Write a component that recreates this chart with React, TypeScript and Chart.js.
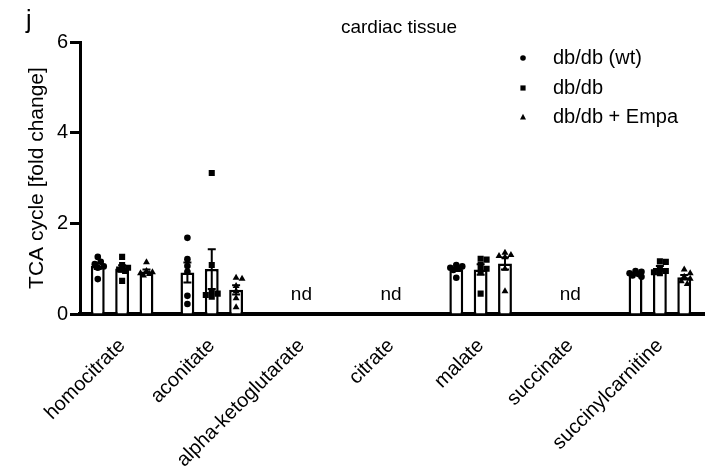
import React, { useEffect, useRef } from 'react';
import { Chart, registerables } from 'chart.js';

Chart.register(...registerables);

// ---------------- data ----------------
const CATEGORIES = [
  'homocitrate',
  'aconitate',
  'alpha-ketoglutarate',
  'citrate',
  'malate',
  'succinate',
  'succinylcarnitine',
];
const SERIES_LABELS = ['db/db (wt)', 'db/db', 'db/db + Empa'];
const POINT_STYLES = ['circle', 'rect', 'triangle'];
const NOT_DETECTED_LABEL = 'nd';
const CHART_TITLE = 'cardiac tissue';
const PANEL_LETTER = 'j';
const Y_TITLE = 'TCA cycle [fold change]';
const Y_TICKS = [0, 2, 4, 6];

// individual animals per metabolite (null = not detected)
const WT_VALUES: (number[] | null)[] = [
  [1.26, 1.15, 1.1, 1.05, 1.02, 0.77],
  [1.68, 1.21, 1.06, 0.93, 0.4, 0.22],
  null,
  null,
  [1.08, 1.05, 1.02, 1.0, 0.97, 0.8],
  null,
  [0.95, 0.93, 0.9, 0.88, 0.85, 0.82],
];
const DBDB_VALUES: (number[] | null)[] = [
  [1.26, 1.08, 1.02, 0.98, 0.95, 0.73],
  [3.11, 1.08, 0.5, 0.45, 0.42, 0.38],
  null,
  null,
  [1.22, 1.2, 1.08, 1.0, 0.95, 0.45],
  null,
  [1.16, 1.15, 1.0, 0.95, 0.92, 0.9],
];
const EMPA_VALUES: (number[] | null)[] = [
  [1.14, 0.95, 0.92, 0.9, 0.88, 0.85],
  [0.8, 0.78, 0.62, 0.5, 0.35, 0.15],
  null,
  null,
  [1.35, 1.3, 1.28, 1.25, 1.0, 0.5],
  null,
  [0.98, 0.9, 0.82, 0.78, 0.72, 0.66],
];
const ALL_VALUES = [WT_VALUES, DBDB_VALUES, EMPA_VALUES];

// ---------------- layout / style ----------------
const W = 709;
const H = 474;
const AREA_LEFT = 80;
const AREA_TOP = 42;
const AREA_BOTTOM = 314;
const X_MIN = -0.47;
const X_MAX = 6.5;
const CAT_PCT = 0.815;
const BAR_PCT = 0.57;
const FONT = '"Liberation Sans", Arial, Helvetica, sans-serif';
const PX_PER_X = (W - AREA_LEFT) / (X_MAX - X_MIN);
const PX_PER_Y = (AREA_BOTTOM - AREA_TOP) / 6;
const POINT_GAP = 5; // px between point centres in the swarm
const SWARM_STEP = 3; // px horizontal step of the swarm

const mean = (a: number[]) => a.reduce((s, v) => s + v, 0) / a.length;
const sem = (a: number[]) => {
  const m = mean(a);
  const sd = Math.sqrt(a.reduce((s, v) => s + (v - m) * (v - m), 0) / (a.length - 1));
  return sd / Math.sqrt(a.length);
};

// simple bee-swarm arrangement of points (pixel offsets -> data units)
function swarm(values: number[]): number[] {
  const order = values.map((v, i) => i).sort((a, b) => values[b] - values[a]);
  const placed: { off: number; v: number }[] = [];
  const offs: number[] = new Array(values.length).fill(0);
  const candidates = [0, 1, -1, 2, -2];
  for (const idx of order) {
    const v = values[idx];
    let chosen = 0;
    let best = -1;
    for (const c of candidates) {
      const off = c * SWARM_STEP;
      let minD = Infinity;
      for (const p of placed) {
        const d = Math.hypot(off - p.off, (v - p.v) * PX_PER_Y);
        minD = Math.min(minD, d);
      }
      if (minD >= POINT_GAP) { chosen = off; break; }
      if (minD > best) { best = minD; chosen = off; }
    }
    placed.push({ off: chosen, v });
    offs[idx] = chosen / PX_PER_X;
  }
  return offs;
}

const annotationPlugin = {
  id: 'annotationPlugin',
  afterDatasetDraw(chart: any, args: any) {
    const meta = args.meta;
    if (meta.type !== 'bar') return;
    const k = args.index;
    const yScale = chart.scales.y;
    const ctx = chart.ctx;
    const groups = ALL_VALUES[k];
    ctx.save();
    ctx.strokeStyle = '#000';
    ctx.lineWidth = 2;
    const barData = chart.data.datasets[k].data;
    meta.data.forEach((el: any, j: number) => {
      const catIndex = barData[j].x;
      const vals = groups[catIndex];
      if (!vals) return;
      const m = mean(vals);
      const e = sem(vals);
      const yTop = yScale.getPixelForValue(m + e);
      const yBot = yScale.getPixelForValue(Math.max(0, m - e));
      const x = el.x;
      const cap = 4;
      ctx.beginPath();
      ctx.moveTo(x, yTop);
      ctx.lineTo(x, yBot);
      ctx.moveTo(x - cap, yTop);
      ctx.lineTo(x + cap, yTop);
      ctx.moveTo(x - cap, yBot);
      ctx.lineTo(x + cap, yBot);
      ctx.stroke();
    });
    ctx.restore();
  },
  afterDraw(chart: any) {
    const ctx = chart.ctx;
    const xScale = chart.scales.x;
    const yScale = chart.scales.y;
    ctx.save();
    ctx.fillStyle = '#000';
    // panel letter
    ctx.font = `25px ${FONT}`;
    ctx.textAlign = 'left';
    ctx.textBaseline = 'alphabetic';
    ctx.fillText(PANEL_LETTER, 26, 28);
    // title
    ctx.font = `19px ${FONT}`;
    ctx.textAlign = 'center';
    ctx.fillText(CHART_TITLE, 399, 33);
    // nd labels
    ctx.font = `19px ${FONT}`;
    CATEGORIES.forEach((_, i) => {
      if (ALL_VALUES.every((s) => !s[i])) {
        ctx.fillText(NOT_DETECTED_LABEL, xScale.getPixelForValue(i), yScale.getPixelForValue(0) - 14);
      }
    });
    // legend
    const rows = [64, 94, 123];
    ctx.font = `20px ${FONT}`;
    ctx.textAlign = 'left';
    SERIES_LABELS.forEach((label, k) => {
      const y = rows[k];
      ctx.fillText(label, 553, y);
      const cy = y - 6;
      const cx = 523;
      ctx.beginPath();
      if (POINT_STYLES[k] === 'circle') {
        ctx.arc(cx, cy, 2.8, 0, Math.PI * 2);
      } else if (POINT_STYLES[k] === 'rect') {
        ctx.rect(cx - 2.6, cy - 2.6, 5.2, 5.2);
      } else {
        ctx.moveTo(cx, cy - 3.3);
        ctx.lineTo(cx + 3, cy + 2.4);
        ctx.lineTo(cx - 3, cy + 2.4);
        ctx.closePath();
      }
      ctx.fill();
    });
    ctx.restore();
  },
};

export default function App() {
  const ref = useRef<HTMLCanvasElement>(null);
  useEffect(() => {
    if (!ref.current) return;
    Chart.defaults.font.family = FONT;
    Chart.defaults.color = '#000';

    const barSets = ALL_VALUES.map((groups, k) => ({
      type: 'bar' as const,
      label: SERIES_LABELS[k],
      data: groups
        .map((vals, i) => (vals ? { x: i, y: mean(vals) } : null))
        .filter((d) => d !== null),
      backgroundColor: '#fff',
      borderColor: '#000',
      borderWidth: 2.5,
      categoryPercentage: CAT_PCT,
      barPercentage: BAR_PCT,
      order: 2,
    }));

    const pointSets = ALL_VALUES.map((groups, k) => {
      const pts: { x: number; y: number }[] = [];
      const groupOffset = ((k - 1) * CAT_PCT) / 3;
      groups.forEach((vals, i) => {
        if (!vals) return;
        const offs = swarm(vals);
        vals.forEach((v, j) => pts.push({ x: i + groupOffset + offs[j], y: v }));
      });
      return {
        type: 'scatter' as const,
        label: SERIES_LABELS[k] + ' points',
        data: pts,
        pointStyle: POINT_STYLES[k],
        pointRadius: k === 0 ? 3.3 : k === 1 ? 4.3 : 4,
        backgroundColor: '#000',
        borderColor: '#000',
        borderWidth: 0,
        order: 1,
      };
    });

    const chart = new Chart(ref.current, {
      type: 'bar',
      data: { datasets: [...barSets, ...pointSets] as any },
      options: {
        animation: false,
        responsive: false,
        events: [],
        layout: { padding: { top: AREA_TOP, left: 0, right: 0, bottom: 0 } },
        plugins: { legend: { display: false }, tooltip: { enabled: false }, title: { display: false } },
        scales: {
          x: {
            type: 'linear',
            min: X_MIN,
            max: X_MAX,
            offset: false,
            grid: { display: false, drawTicks: false },
            border: { display: true, width: 4, color: '#000' },
            afterBuildTicks: (scale: any) => {
              scale.ticks = CATEGORIES.map((_, i) => ({ value: i }));
            },
            afterFit: (scale: any) => {
              scale.height = H - AREA_BOTTOM;
            },
            ticks: {
              autoSkip: false,
              minRotation: 45,
              maxRotation: 45,
              padding: 20,
              font: { size: 20 },
              color: '#000',
              callback: (value: any) => CATEGORIES[Math.round(value)] ?? '',
            },
          },
          y: {
            min: 0,
            max: 6,
            grid: {
              drawOnChartArea: false,
              drawTicks: true,
              tickLength: 10,
              tickWidth: 3,
              tickColor: '#000',
              color: '#000',
            },
            border: { display: true, width: 3, color: '#000' },
            afterBuildTicks: (scale: any) => {
              scale.ticks = Y_TICKS.map((v) => ({ value: v }));
            },
            afterFit: (scale: any) => {
              scale.width = AREA_LEFT;
            },
            ticks: { padding: 2, font: { size: 20 }, color: '#000' },
            title: {
              display: true,
              text: Y_TITLE,
              font: { size: 21 },
              color: '#000',
              padding: { top: 25, bottom: 0 },
            },
          },
        },
      },
      plugins: [annotationPlugin],
    } as any);
    return () => chart.destroy();
  }, []);

  return (
    <div style={{ position: 'fixed', left: 0, top: 0, width: W, height: H, background: '#fff' }}>
      <canvas ref={ref} width={W} height={H} style={{ display: 'block', width: W, height: H }} />
    </div>
  );
}
